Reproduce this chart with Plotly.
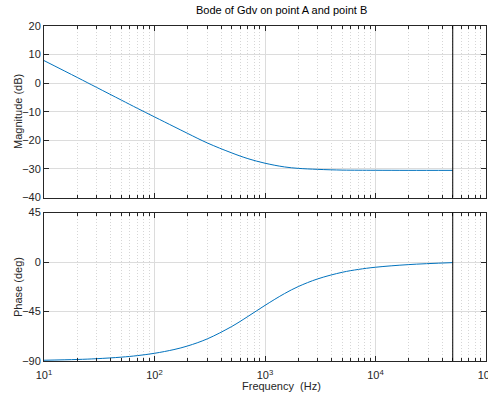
import plotly.graph_objects as go
from plotly.subplots import make_subplots

freq_hz = [10, 20, 30, 50, 70, 100, 150, 200, 300, 500, 700, 1000, 1500, 2000, 3000, 5000, 7000, 10000, 20000, 50000]
mag_db = [7.9, 2.0, -1.5, -5.9, -8.8, -11.8, -15.2, -17.6, -20.9, -24.4, -26.4, -28.0, -29.3, -29.8, -30.15, -30.4, -30.45, -30.47, -30.5, -30.5]
phase_deg = [-89.3, -88.6, -87.9, -86.5, -85.1, -83.0, -79.6, -76.3, -69.9, -58.6, -49.5, -39.4, -28.7, -22.3, -15.3, -9.3, -6.7, -4.7, -2.3, -0.5]
nyquist_hz = [50000]

x_tickvals = [10, 100, 1000, 10000, 100000]
x_ticktext = ["10<sup>1</sup>", "10<sup>2</sup>", "10<sup>3</sup>", "10<sup>4</sup>", "10<sup>5</sup>"]
mag_ticks = [-40, -30, -20, -10, 0, 10, 20]
phase_ticks = [-90, -45, 0, 45]

blue = "#0072BD"
axc = "#262626"
font = "Liberation Sans, Arial, sans-serif"

fig = make_subplots(rows=2, cols=1, shared_xaxes=False)
fig.add_trace(go.Scatter(x=freq_hz, y=mag_db, mode="lines", line=dict(color=blue, width=1, shape="spline"), showlegend=False), row=1, col=1)
fig.add_trace(go.Scatter(x=freq_hz, y=phase_deg, mode="lines", line=dict(color=blue, width=1, shape="spline"), showlegend=False), row=2, col=1)

for xref, yref in (("x", "y"), ("x2", "y2")):
    fig.add_shape(type="line", xref=xref, yref=yref + " domain", x0=nyquist_hz[0], x1=nyquist_hz[0], y0=0, y1=1,
                  line=dict(color="black", width=1))

xcommon = dict(type="log", range=[1, 5], tickvals=x_tickvals, ticktext=x_ticktext, automargin=False,
               showline=True, linecolor=axc, linewidth=1, mirror="ticks",
               ticks="inside", ticklen=5, tickcolor=axc, ticklabeloverflow="allow",
               showgrid=True, gridcolor="#dcdcdc", gridwidth=1,
               minor=dict(dtick="D1", ticks="inside", ticklen=3, tickcolor=axc,
                          showgrid=True, gridcolor="#d6d6d6", griddash="1px,2px", gridwidth=1),
               tickfont=dict(size=11, color=axc, family=font), zeroline=False)
ycommon = dict(showline=True, linecolor=axc, mirror="ticks", ticks="inside", ticklen=5, tickcolor=axc,
               showgrid=True, gridcolor="#dcdcdc", zeroline=False, automargin=False,
               tickfont=dict(size=11, color=axc, family=font))

W, H = 488, 394
l, r, t, b = 44, 2, 26, 33
pw, ph = W - l - r, H - t - b

fig.update_layout(
    width=W, height=H,
    margin=dict(l=l, r=r, t=t, b=b, autoexpand=False),
    paper_bgcolor="white", plot_bgcolor="white",
    font=dict(family=font, size=11, color=axc),
    xaxis=dict(domain=[0, 1], showticklabels=False, **xcommon),
    xaxis2=dict(domain=[0, 1], showticklabels=True, ticklabelstandoff=4, **xcommon),
    yaxis=dict(domain=[0.488, 1], range=[-40, 20], tickvals=mag_ticks, **ycommon),
    yaxis2=dict(domain=[0, 0.443], range=[-90, 45], tickvals=phase_ticks, **ycommon),
)

def px(xp):
    return (xp - l) / pw
def py(yp):
    return (H - b - yp) / ph

fig.add_annotation(text="Bode of Gdv on point A and point B", x=px(281), y=py(10), xref="paper", yref="paper",
                   showarrow=False, font=dict(size=11, color="black"), xanchor="center", yanchor="middle")
fig.add_annotation(text="Frequency  (Hz)", x=px(281), y=py(386), xref="paper", yref="paper",
                   showarrow=False, font=dict(size=11, color=axc), xanchor="center", yanchor="middle")
fig.add_annotation(text="Magnitude (dB)", x=px(18), y=py(112), xref="paper", yref="paper", textangle=-90,
                   showarrow=False, font=dict(size=11, color=axc), xanchor="center", yanchor="middle")
fig.add_annotation(text="Phase (deg)", x=px(18), y=py(287), xref="paper", yref="paper", textangle=-90,
                   showarrow=False, font=dict(size=11, color=axc), xanchor="center", yanchor="middle")

fig.write_html("out.html", config={"displayModeBar": False},
               post_script="document.body.style.margin='0';document.body.style.overflow='hidden';")
